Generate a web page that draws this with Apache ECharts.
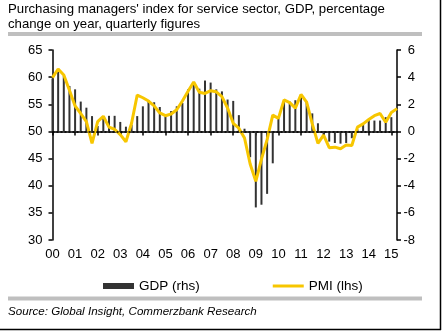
<!DOCTYPE html>
<html>
<head>
<meta charset="utf-8">
<script src="https://cdn.jsdelivr.net/npm/echarts@6/dist/echarts.min.js"></script>
<style>
html,body{margin:0;padding:0;background:#fff;}
#chart{width:443px;height:332px;}
</style>
</head>
<body>
<div id="chart"></div>
<script>
// Year tick labels
var years = ['00','01','02','03','04','05','06','07','08','09','10','11','12','13','14','15'];
// Quarterly categories 2000Q1 .. 2015Q2
var quarters = [];
years.forEach(function (y) {
  for (var q = 1; q <= 4; q++) quarters.push(y + 'Q' + q);
});
quarters = quarters.slice(0, 62);

// GDP, % yoy (rhs)
var gdp = [
  3.9, 4.5, 4.1, 3.35,   // 2000
  3.1, 2.2, 1.75, 1.13,  // 2001
  0.4, 1.0, 1.15, 1.15,  // 2002
  0.7, 0.35, 0.5, 1.13,  // 2003
  1.85, 2.3, 2.15, 1.8,  // 2004
  1.1, 1.5, 1.85, 2.1,   // 2005
  3.1, 3.45, 3.15, 3.75, // 2006
  3.6, 3.1, 2.95, 2.35,  // 2007
  2.25, 1.2, 0.2, -1.9,  // 2008
  -5.6, -5.4, -4.6, -2.35, // 2009
  1.0, 2.3, 2.2, 2.3,    // 2010
  2.6, 2.2, 1.33, 0.6,   // 2011
  -0.3, -0.75, -0.85, -0.9, // 2012
  -0.85, -0.5, 0.15, 0.6,   // 2013
  0.9, 0.8, 0.8, 1.05,   // 2014
  1.05, null             // 2015
];

// Services PMI (lhs)
var pmi = [
  59.9, 61.5, 60.4, 57.6,  // 2000
  54.7, 53.3, 51.8, 47.8,  // 2001
  51.8, 52.8, 50.8, 50.4,  // 2002
  49.4, 48.1, 51.5, 56.7,  // 2003
  56.2, 55.6, 54.7, 53.4,  // 2004
  52.9, 53.2, 54.0, 55.6,  // 2005
  57.4, 59.1, 57.2, 57.0,  // 2006
  57.5, 57.3, 56.4, 54.3,  // 2007
  51.5, 50.6, 48.8, 44.0,  // 2008
  40.8, 44.9, 48.5, 53.0,  // 2009
  52.4, 55.8, 55.3, 54.3,  // 2010
  56.8, 55.4, 51.4, 47.8,  // 2011
  49.3, 47.0, 47.1, 46.8,  // 2012
  47.5, 47.4, 50.8, 51.4,  // 2013
  52.2, 52.9, 53.3, 51.7,  // 2014
  53.5, 54.2               // 2015
];

var leftTicks = {min: 30, max: 65, interval: 5};
var rightTicks = {min: -8, max: 6, interval: 2};

var FONT = '"Liberation Sans", Arial, sans-serif';
var YELLOW = '#f7c600';
var DARK = '#333333';

var chart = echarts.init(document.getElementById('chart'), null, {renderer: 'canvas'});

var isYearStart = function (idx) { return idx % 4 === 0; };

chart.setOption({
  animation: false,
  backgroundColor: '#fff',
  textStyle: {fontFamily: FONT},
  grid: {left: 52.5, right: 46, top: 50, bottom: 92, containLabel: false},
  legend: {
    left: 98, top: 274,
    itemWidth: 31, itemHeight: 6, itemGap: 73,
    symbolKeepAspect: true,
    textStyle: {fontFamily: FONT, fontSize: 13.5, color: '#000'},
    data: [
      {name: 'GDP (rhs)', icon: 'rect'},
      {name: 'PMI (lhs)', icon: 'path://M0,0L31,0L31,3L0,3Z', itemStyle: {color: YELLOW, borderWidth: 0}}
    ]
  },
  xAxis: {
    type: 'category',
    data: quarters,
    boundaryGap: false,
    axisLine: {lineStyle: {color: '#000', width: 1.5}},
    axisTick: {show: true, interval: isYearStart, length: 4, lineStyle: {color: '#000', width: 1.5}},
    axisLabel: {
      interval: isYearStart, margin: 8,
      fontFamily: FONT, fontSize: 13, color: '#000',
      formatter: function (v) { return v.slice(0, 2); }
    },
    splitLine: {show: false}
  },
  yAxis: [
    {
      type: 'value', position: 'left',
      min: leftTicks.min, max: leftTicks.max, interval: leftTicks.interval,
      axisLine: {show: true, lineStyle: {color: '#000', width: 1.5}},
      axisTick: {show: true, length: 4, lineStyle: {color: '#000', width: 1.5}},
      axisLabel: {margin: 10, fontFamily: FONT, fontSize: 13, color: '#000'},
      splitLine: {show: false}
    },
    {
      type: 'value', position: 'right',
      min: rightTicks.min, max: rightTicks.max, interval: rightTicks.interval,
      axisLine: {show: true, lineStyle: {color: '#000', width: 1.5}},
      axisTick: {show: true, length: 4, lineStyle: {color: '#000', width: 1.5}},
      axisLabel: {margin: 18, align: 'right', fontFamily: FONT, fontSize: 13, color: '#000'},
      splitLine: {show: false}
    }
  ],
  series: [
    {
      name: 'GDP (rhs)',
      type: 'bar',
      yAxisIndex: 1,
      data: gdp,
      barWidth: 2,
      itemStyle: {color: DARK},
      markLine: {
        silent: true,
        symbol: ['none', 'none'],
        label: {show: false},
        lineStyle: {color: '#000', type: [2, 2], width: 1.5},
        data: [{yAxis: 0}]
      },
      z: 2
    },
    {
      name: 'PMI (lhs)',
      type: 'line',
      yAxisIndex: 0,
      data: pmi,
      symbol: 'none',
      showSymbol: false,
      lineStyle: {color: YELLOW, width: 3},
      itemStyle: {color: YELLOW},
      z: 3
    }
  ],
  graphic: [
    {type: 'text', left: 8, top: 2.5, style: {text: "Purchasing managers' index for service sector, GDP, percentage", font: '13.2px ' + FONT, fill: '#000'}},
    {type: 'text', left: 8, top: 17.5, style: {text: 'change on year, quarterly figures', font: '13.2px ' + FONT, fill: '#000'}},
    {type: 'rect', shape: {x: 8, y: 32, width: 414, height: 4}, style: {fill: '#bfbfbf'}},
    {type: 'rect', shape: {x: 8, y: 296.5, width: 414, height: 4}, style: {fill: '#bfbfbf'}},
    {type: 'text', left: 8, top: 306, style: {text: 'Source: Global Insight, Commerzbank Research', font: 'italic 11.6px ' + FONT, fill: '#000'}},
    {type: 'line', shape: {x1: 440.5, y1: 0, x2: 440.5, y2: 330}, style: {stroke: '#000', lineWidth: 1.5}},
    {type: 'line', shape: {x1: 0, y1: 329.5, x2: 441, y2: 329.5}, style: {stroke: '#000', lineWidth: 1.5}}
  ]
});
</script>
</body>
</html>
